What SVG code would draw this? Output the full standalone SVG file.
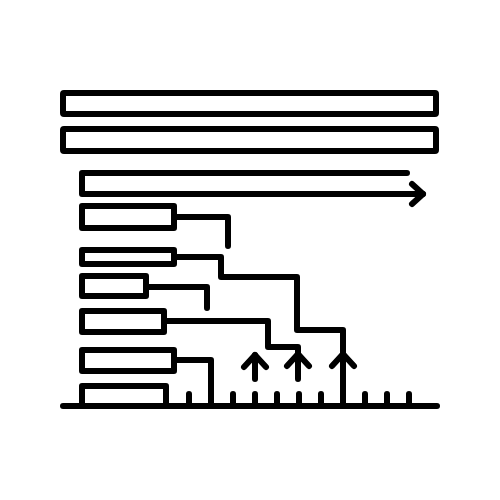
<svg xmlns="http://www.w3.org/2000/svg" width="500" height="500" viewBox="0 0 500 500">
<style>
.s{fill:none;stroke:#000;stroke-width:6;stroke-linecap:round;stroke-linejoin:round}
</style>
<rect width="500" height="500" fill="#fff"/>
<g id="bar1"><rect class="s" x="63" y="93" width="373" height="21" rx="1"/></g>
<g id="bar2"><rect class="s" x="63" y="129" width="373" height="22" rx="1"/></g>
<g id="arrowbar"><path class="s" d="M407,173 H82 V194 H423"/><path class="s" d="M412,184 L423,194 L412,204"/></g>
<g id="box1"><rect class="s" x="82" y="206" width="92" height="22"/></g>
<g id="box2"><rect class="s" x="82" y="250" width="92" height="14"/></g>
<g id="box3"><rect class="s" x="82" y="276" width="64" height="20"/></g>
<g id="box4"><rect class="s" x="82" y="311" width="82" height="21"/></g>
<g id="box5"><rect class="s" x="82" y="350" width="92" height="21"/></g>
<g id="box6"><path class="s" d="M82,405 V386 H166 V405"/></g>
<g id="axis">
<path class="s" d="M63,406 H437"/>
<path class="s" d="M189,394 V406 M233,394 V406 M255,394 V406 M277,394 V406 M299,394 V406 M321,394 V406 M365,394 V406 M387,394 V406 M409,394 V406"/>
</g>
<g id="connectors">
<path class="s" d="M177,217 H228 V246"/>
<path class="s" d="M177,257 H221 V277 H297 V330 H343 V406"/>
<path class="s" d="M149,287 H207 V308"/>
<path class="s" d="M167,321 H268 V347 H298 V379"/>
<path class="s" d="M177,360 H211 V406"/>
<path class="s" d="M255,379 V355"/>
<path class="s" d="M244,367 L255,355 L266,367"/>
<path class="s" d="M287,366 L298,354 L309,366"/>
<path class="s" d="M332,366 L343,354 L354,366"/>
</g>
</svg>
